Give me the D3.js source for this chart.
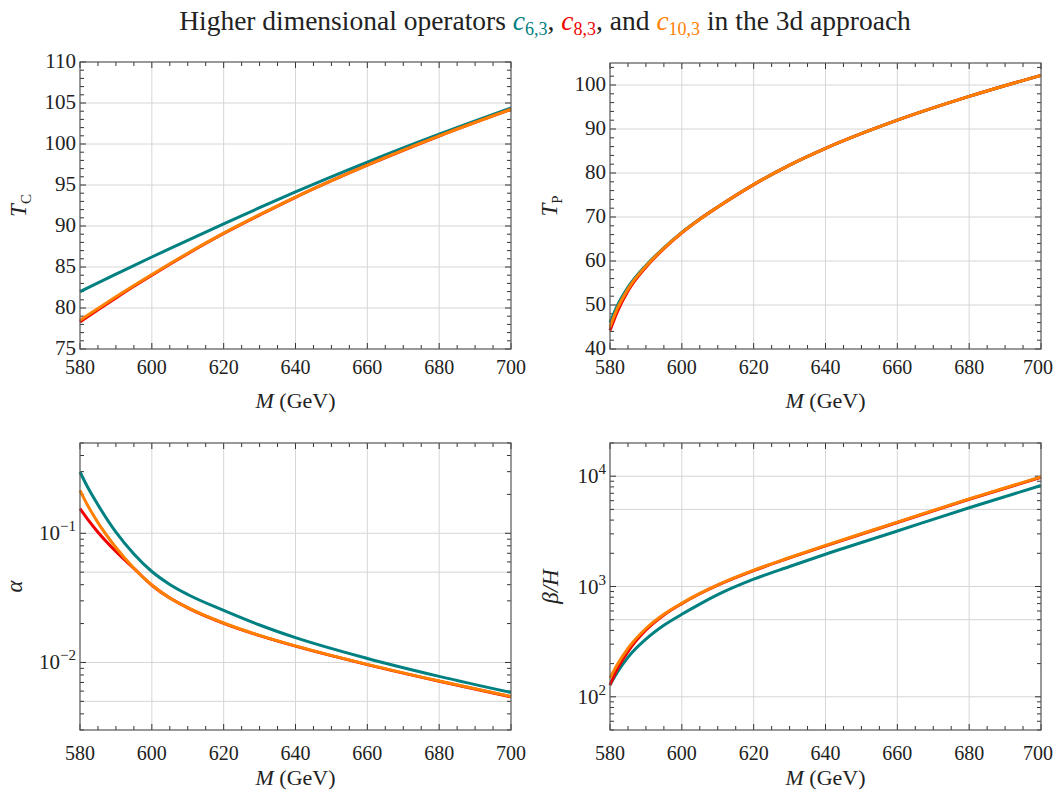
<!DOCTYPE html>
<html>
<head>
<meta charset="utf-8">
<script src="https://cdn.jsdelivr.net/npm/d3@7"></script>
<style>
  body { margin: 0; background: #fff; }
  svg text { font-family: "Liberation Serif", "DejaVu Serif", serif; fill: #222; }
</style>
</head>
<body>
<svg id="chart" width="1055" height="790" style="font-family: 'Liberation Serif', 'DejaVu Serif', serif;"></svg>
<script>
// Mass grid (GeV) shared by all curves
const mass = [580, 582, 585, 590, 595, 600, 605, 610, 620, 630, 640, 660, 680, 700];

// T_C
const tcC6 = [82.0, 82.43, 83.07, 84.13, 85.18, 86.22, 87.24, 88.26, 90.26, 92.23, 94.16, 97.8, 101.2, 104.4];
const tcC8 = [78.3, 78.9, 79.78, 81.23, 82.64, 84.0, 85.33, 86.62, 89.08, 91.34, 93.5, 97.41, 100.97, 104.22];
const tcC10 = [78.5, 79.08, 79.94, 81.36, 82.74, 84.08, 85.4, 86.68, 89.13, 91.38, 93.53, 97.43, 100.98, 104.23];

// T_P
const tpC6 = [46.0, 49.8, 54.0, 59.0, 63.0, 66.5, 69.55, 72.3, 77.4, 81.8, 85.6, 92.0, 97.4, 102.2];
const tpC8 = [44.2, 48.4, 53.2, 58.6, 62.8, 66.4, 69.5, 72.25, 77.35, 81.8, 85.6, 92.0, 97.4, 102.2];
const tpC10 = [45.0, 49.1, 53.6, 58.8, 62.9, 66.45, 69.5, 72.3, 77.4, 81.8, 85.6, 92.0, 97.4, 102.2];

// alpha
const alC6 = [0.298, 0.231, 0.166, 0.102, 0.0692, 0.0506, 0.0402, 0.0336, 0.0253, 0.0195, 0.01556, 0.01074, 0.0078, 0.00585];
const alC8 = [0.155, 0.130, 0.102, 0.0724, 0.0535, 0.0396, 0.0315, 0.0265, 0.0201, 0.01614, 0.01337, 0.00962, 0.00715, 0.00542];
const alC10 = [0.215, 0.167, 0.121, 0.0776, 0.0537, 0.0398, 0.0316, 0.0266, 0.0202, 0.0162, 0.01343, 0.00966, 0.00718, 0.00545];

// beta/H
const bhC6 = [128, 166, 228, 333, 445, 560, 693, 843, 1164, 1517, 1959, 3184, 5176, 8241];
const bhC8 = [128, 178, 257, 403, 552, 700, 859, 1028, 1393, 1816, 2339, 3802, 6180, 9772];
const bhC10 = [148, 195, 275, 416, 561, 706, 865, 1035, 1406, 1832, 2360, 3837, 6237, 9863];

const xTicks = [580, 600, 620, 640, 660, 680, 700];

const colC6 = "#008080", colC8 = "#f00000", colC10 = "#ff8000";

const svg = d3.select("#chart");

// Title
const title = svg.append("text")
    .attr("x", 545).attr("y", 30)
    .attr("text-anchor", "middle")
    .style("font-size", "27.5px");
title.append("tspan").text("Higher dimensional operators ");
function coef(sub, col) {
  title.append("tspan").style("font-style", "italic").style("fill", col).text("c");
  title.append("tspan").style("fill", col).style("font-size", "18px").attr("dy", 5).text(sub);
}
coef("6,3", colC6);
title.append("tspan").attr("dy", -5).text(", ");
coef("8,3", colC8);
title.append("tspan").attr("dy", -5).text(", and ");
coef("10,3", colC10);
title.append("tspan").attr("dy", -5).text(" in the 3d approach");

const panels = [
  { box: [80, 511, 62, 349], log: false, domain: [75, 110], major: d3.range(75, 111, 5), minor: d3.range(75, 111, 1),
    grid: d3.range(80, 110, 5), series: [tcC6, tcC8, tcC10], ylab: ["T", "C"], ylabX: 26, xlabY: 408, tickY: 374 },
  { box: [610, 1041, 63, 349], log: false, domain: [40, 105], major: d3.range(40, 101, 10), minor: d3.range(40, 106, 2),
    grid: d3.range(50, 101, 10), series: [tpC6, tpC8, tpC10], ylab: ["T", "P"], ylabX: 557, xlabY: 408, tickY: 374 },
  { box: [80, 511, 443, 730], log: true, domain: [0.003, 0.5], decades: [-2, -1],
    grid: [0.1, 0.05, 0.01, 0.005], series: [alC6, alC8, alC10], ylab: ["α"], ylabX: 22, xlabY: 785, tickY: 760 },
  { box: [610, 1041, 443, 730], log: true, domain: [50, 20000], decades: [2, 3, 4],
    grid: [10000, 5000, 1000, 500, 100], series: [bhC6, bhC8, bhC10], ylab: ["β/H"], ylabX: 558, xlabY: 785, tickY: 760 }
];

panels.forEach(p => {
  const [x0, x1, y0, y1] = p.box;
  const x = d3.scaleLinear().domain([580, 700]).range([x0, x1]);
  const y = (p.log ? d3.scaleLog() : d3.scaleLinear()).domain(p.domain).range([y1, y0]);
  const g = svg.append("g");

  // grid lines
  g.selectAll(".vg").data(xTicks.slice(1, -1)).enter().append("line")
      .attr("x1", d => x(d)).attr("x2", d => x(d)).attr("y1", y0).attr("y2", y1)
      .attr("stroke", "#d6d6d6").attr("stroke-width", 1);
  g.selectAll(".hg").data(p.grid).enter().append("line")
      .attr("x1", x0).attr("x2", x1).attr("y1", d => y(d)).attr("y2", d => y(d))
      .attr("stroke", "#d6d6d6").attr("stroke-width", 1);

  // minor / major tick sets on y
  let yMajor, yMinor;
  if (p.log) {
    yMajor = p.decades.map(e => Math.pow(10, e));
    yMinor = [];
    for (let e = -4; e <= 5; e++) {
      for (let k = 2; k <= 9; k++) {
        const v = k * Math.pow(10, e);
        if (v >= p.domain[0] && v <= p.domain[1]) yMinor.push(v);
      }
    }
  } else {
    yMajor = p.major;
    yMinor = p.minor.filter(v => !p.major.includes(v));
  }
  const xMinor = d3.range(580, 701, 5).filter(v => !xTicks.includes(v));

  const tickCol = "#333";
  // x ticks top & bottom
  [[y1, -1], [y0, 1]].forEach(([yy, dir]) => {
    g.selectAll(null).data(xTicks).enter().append("line")
        .attr("x1", d => x(d)).attr("x2", d => x(d)).attr("y1", yy).attr("y2", yy + dir * 6)
        .attr("stroke", tickCol);
    g.selectAll(null).data(xMinor).enter().append("line")
        .attr("x1", d => x(d)).attr("x2", d => x(d)).attr("y1", yy).attr("y2", yy + dir * 4)
        .attr("stroke", tickCol);
  });
  // y ticks left & right
  [[x0, 1], [x1, -1]].forEach(([xx, dir]) => {
    g.selectAll(null).data(yMajor).enter().append("line")
        .attr("x1", xx).attr("x2", xx + dir * 6).attr("y1", d => y(d)).attr("y2", d => y(d))
        .attr("stroke", tickCol);
    g.selectAll(null).data(yMinor).enter().append("line")
        .attr("x1", xx).attr("x2", xx + dir * 4).attr("y1", d => y(d)).attr("y2", d => y(d))
        .attr("stroke", tickCol);
  });

  // curves
  const line = d3.line().x(d => x(d[0])).y(d => y(d[1])).curve(d3.curveMonotoneX);
  const cols = [colC6, colC8, colC10];
  p.series.forEach((s, i) => {
    g.append("path")
        .datum(mass.map((m, j) => [m, s[j]]))
        .attr("fill", "none").attr("stroke", cols[i]).attr("stroke-width", 3)
        .attr("d", line);
  });

  // frame
  g.append("rect").attr("x", x0).attr("y", y0).attr("width", x1 - x0).attr("height", y1 - y0)
      .attr("fill", "none").attr("stroke", "#555").attr("stroke-width", 1.2);

  // x tick labels (last one nudged so it stays inside the page)
  g.selectAll(null).data(xTicks).enter().append("text")
      .attr("x", d => x(d) - (d === 700 && x1 > 1000 ? 3 : 0)).attr("y", p.tickY)
      .attr("text-anchor", "middle").style("font-size", "20px")
      .text(d => d);

  // y tick labels
  if (p.log) {
    yMajor.forEach(v => {
      const t = g.append("text").attr("x", x0 - 4).attr("y", y(v) + 7)
          .attr("text-anchor", "end").style("font-size", "21px");
      const e = Math.round(Math.log10(v));
      t.append("tspan").text("10");
      t.append("tspan").attr("dy", -9).style("font-size", "15px").text(e < 0 ? "−" + (-e) : e);
    });
  } else {
    g.selectAll(null).data(yMajor).enter().append("text")
        .attr("x", x0 - 4).attr("y", d => y(d) + 6)
        .attr("text-anchor", "end").style("font-size", "21px")
        .text(d => d);
  }

  // axis labels
  const xl = g.append("text").attr("x", (x0 + x1) / 2).attr("y", p.xlabY)
      .attr("text-anchor", "middle").style("font-size", "22px");
  xl.append("tspan").style("font-style", "italic").text("M");
  xl.append("tspan").text(" (GeV)");

  const yc = (y0 + y1) / 2;
  const yl = g.append("text").attr("transform", `translate(${p.ylabX},${yc}) rotate(-90)`)
      .attr("text-anchor", "middle").style("font-size", "23px");
  yl.append("tspan").style("font-style", "italic").text(p.ylab[0]);
  if (p.ylab[1]) yl.append("tspan").attr("dy", 5).style("font-size", "15px").text(p.ylab[1]);
});
</script>
</body>
</html>
